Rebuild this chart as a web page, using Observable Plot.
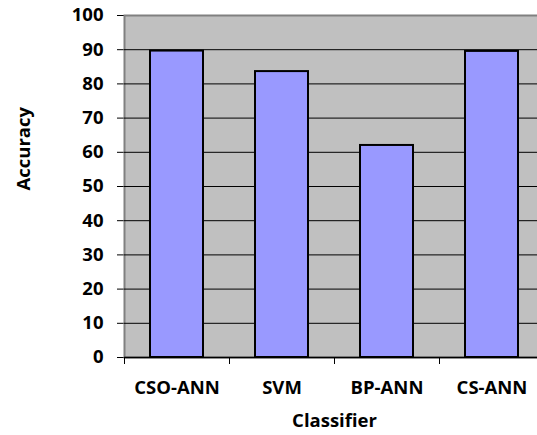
<!DOCTYPE html>
<html><head><meta charset="utf-8">
<script src="https://cdn.jsdelivr.net/npm/d3@7"></script>
<script src="https://cdn.jsdelivr.net/npm/@observablehq/plot@0.6"></script>
<style>body{margin:0;background:#fff}</style>
</head><body><div id="chart"></div>
<script>
const classifiers = ["CSO-ANN", "SVM", "BP-ANN", "CS-ANN"];
const accuracy = [89.6, 83.6, 62.0, 89.5];
const yTicks = [0, 10, 20, 30, 40, 50, 60, 70, 80, 90, 100];
const gridValues = [10, 20, 30, 40, 50, 60, 70, 80, 90];
const xTitle = "Classifier";
const yTitle = "Accuracy";

const data = classifiers.map((c, i) => ({classifier: c, accuracy: accuracy[i]}));

const chart = Plot.plot({
  width: 537,
  height: 435,
  marginLeft: 124,
  marginRight: -7,
  marginTop: 15,
  marginBottom: 78,
  style: {fontFamily: "'Open Sans'", fontSize: "18.5px", fontWeight: "bold", color: "#000", background: "#fff", overflow: "hidden"},
  x: {domain: classifiers, paddingInner: 0.5, paddingOuter: 0.25, align: 0.5, label: null, tickSize: 0, tickPadding: 23},
  y: {domain: [0, 100], ticks: yTicks, tickSize: 7, tickPadding: 14, label: null},
  marks: [
    Plot.frame({fill: "#C0C0C0", stroke: "#808080", strokeWidth: 2}),
    Plot.ruleY(gridValues, {stroke: "#000", strokeWidth: 1}),
    Plot.barY(data, {x: "classifier", y: "accuracy", fill: "#9999FF", stroke: "#000", strokeWidth: 2}),
    Plot.ruleY([0], {stroke: "#000", strokeWidth: 1.5}),
    Plot.ruleX(classifiers, {x: d => d, dx: -52.5, y1: () => 0, y2: () => 0, insetBottom: -7, stroke: "#000", strokeWidth: 1}),
    Plot.text([xTitle], {frameAnchor: "bottom", dy: 69, text: d => d, fontSize: 18.5, fontWeight: "bold"}),
    Plot.text([yTitle], {frameAnchor: "left", dx: -100, dy: 4, rotate: -90, text: d => d, fontSize: 18.5, fontWeight: "bold"})
  ]
});
document.getElementById("chart").appendChild(chart);
</script>
</body></html>
